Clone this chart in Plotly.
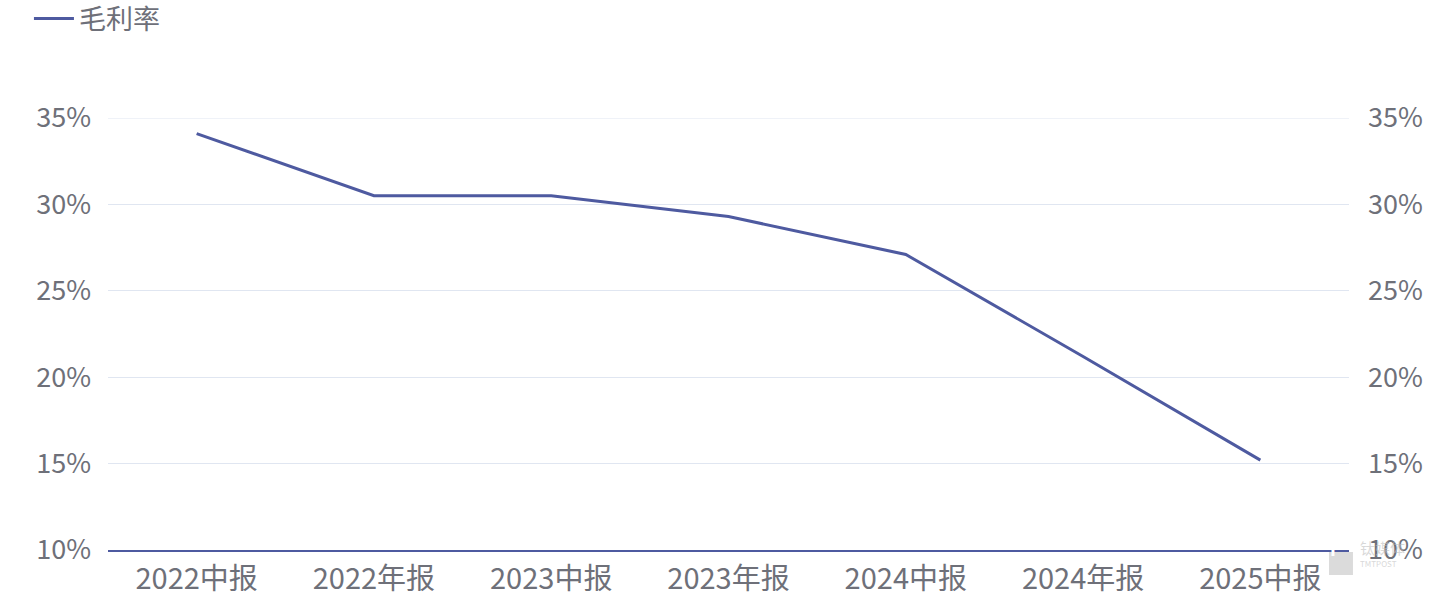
import plotly.graph_objects as go

categories = ["2022中报", "2022年报", "2023中报", "2023年报", "2024中报", "2024年报", "2025中报"]
gross_margin = [34.1, 30.5, 30.5, 29.3, 27.1, 21.2, 15.2]
tick_vals = [10, 15, 20, 25, 30, 35]
tick_text = ["10%", "15%", "20%", "25%", "30%", "35%"]

LINE = "#4e5aa0"
TEXT = "#6e7079"
GRID = "#e0e6f1"
FONT = "Noto Sans CJK SC, Noto Sans, sans-serif"

fig = go.Figure()
fig.add_trace(go.Scatter(
    x=categories, y=gross_margin, mode="lines", name="毛利率",
    line=dict(color=LINE, width=3), yaxis="y",
))
# invisible trace for the right axis
fig.add_trace(go.Scatter(
    x=categories, y=gross_margin, mode="lines", showlegend=False,
    line=dict(color="rgba(0,0,0,0)", width=0), yaxis="y2", hoverinfo="skip",
))

fig.update_layout(
    width=1440, height=604,
    margin=dict(l=108, r=91, t=118, b=54, autoexpand=False),
    paper_bgcolor="white", plot_bgcolor="white",
    font=dict(family=FONT, color=TEXT, size=24),
    showlegend=True,
    legend=dict(
        orientation="h", x=0.0201, y=1 - 19 / 604, xref="container", yref="container",
        xanchor="left", yanchor="middle", font=dict(size=27, color=TEXT),
        itemwidth=40, bgcolor="rgba(0,0,0,0)",
    ),
    xaxis=dict(
        type="category", range=[-0.5, 6.5], showgrid=False,
        showline=True, linecolor=LINE, linewidth=1.5,
        ticks="", tickfont=dict(size=29, color=TEXT), ticklabelstandoff=2,
    ),
    yaxis=dict(
        range=[10, 35], tickvals=tick_vals, ticktext=tick_text,
        showgrid=True, gridcolor=GRID, gridwidth=1.2, zeroline=False,
        showline=False, ticks="", tickfont=dict(size=27, color=TEXT),
        ticklabelstandoff=16,
    ),
    yaxis2=dict(
        range=[10, 35], tickvals=tick_vals, ticktext=tick_text,
        overlaying="y", side="right", showgrid=False, zeroline=False,
        showline=False, ticks="", tickfont=dict(size=27, color=TEXT),
        ticklabelstandoff=18,
    ),
)

# top grid line at 35% (plot top edge)
fig.add_shape(type="line", xref="paper", yref="y", x0=0, x1=1, y0=35, y1=35,
              line=dict(color=GRID, width=1.2), layer="below")

# watermark
fig.add_shape(type="rect", xref="paper", yref="paper",
              x0=0.9839, x1=1.0032, y0=-0.0579, y1=-0.0046,
              fillcolor="#cfcfcf", line=dict(width=0), opacity=0.75)
fig.add_annotation(xref="paper", yref="paper", x=0.99355, y=-0.031,
                   text="<b>T</b>", showarrow=False,
                   font=dict(size=19, color="white", family=FONT))
fig.add_annotation(xref="paper", yref="paper", x=1.0073, y=-0.0231,
                   xanchor="left", text="钛媒体", showarrow=False,
                   font=dict(size=15, color="rgba(190,190,190,0.6)", family=FONT))
fig.add_annotation(xref="paper", yref="paper", x=1.0073, y=-0.0486,
                   xanchor="left", text="TMTPOST", showarrow=False,
                   font=dict(size=8, color="rgba(190,190,190,0.6)", family=FONT))

fig.write_html("out.html", post_script="document.body.style.margin='0';",
               config={"displayModeBar": False})
